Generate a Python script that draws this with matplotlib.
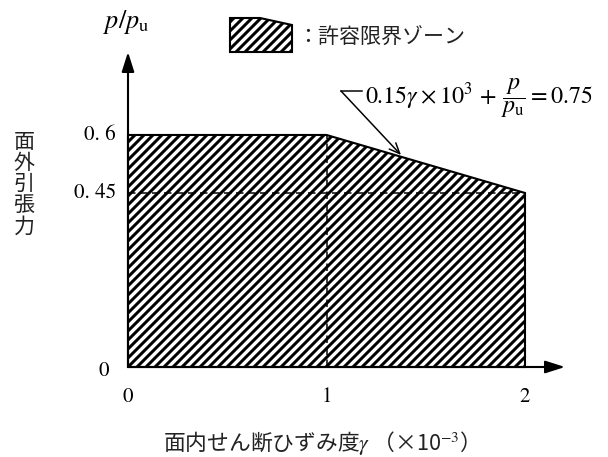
import matplotlib
matplotlib.use("Agg")
import matplotlib.pyplot as plt
from matplotlib.patches import Polygon

plt.rcParams['font.family'] = ['Noto Sans CJK JP', 'DejaVu Sans']
plt.rcParams['mathtext.fontset'] = 'stix'
plt.rcParams['hatch.linewidth'] = 2.0

# boundary of the allowable zone
gamma_pts = [0, 0, 1, 2, 2]
p_pts = [0, 0.6, 0.6, 0.45, 0]
x_ticks = [0, 1, 2]
x_labels = ['0', '1', '2']
y_ticks = [0, 0.45, 0.6]
y_labels = ['0', '0. 45', '0. 6']

DPI = 108
W, H = 608, 457
x0_px, x_scale = 128, 198.5      # pixel of gamma=0, px per unit
y0_px, y_scale = 367, 386.7      # pixel (from top) of p=0, px per unit


def px_x(px):
    return (px - x0_px) / x_scale


def px_y(py):
    return (y0_px - py) / y_scale


fig = plt.figure(figsize=(W / DPI, H / DPI), dpi=DPI)
ax = fig.add_axes([0, 0, 1, 1])
ax.set_xlim(px_x(0), px_x(W))
ax.set_ylim(px_y(H), px_y(0))
ax.axis('off')

# hatched zone
zone = Polygon(list(zip(gamma_pts, p_pts)), closed=True, facecolor='white',
               edgecolor='black', hatch='////', linewidth=1.4, zorder=2)
ax.add_patch(zone)

# dashed guides
ax.plot([1, 1], [0, 0.6], color='black', lw=1.0, ls=(0, (5, 3)), zorder=3)
ax.plot([0, 2], [0.45, 0.45], color='black', lw=1.0, ls=(0, (5, 3)), zorder=3)

# axes with arrows
arrow = dict(arrowstyle='-|>,head_length=1.1,head_width=0.35',
             color='black', lw=1.4, shrinkA=0, shrinkB=0)
ax.annotate('', xy=(px_x(565), 0), xytext=(0, 0), arrowprops=arrow, zorder=4)
ax.annotate('', xy=(0, px_y(52)), xytext=(0, 0), arrowprops=arrow, zorder=4)

# tick labels
for xv, lab in zip(x_ticks, x_labels):
    ax.text(xv, px_y(397), lab, ha='center', va='center', fontsize=14,
            family='STIXGeneral')
for yv, lab in zip(y_ticks, y_labels):
    if yv == 0:
        ax.text(px_x(109), yv - 4 / y_scale, lab, ha='right', va='center',
                fontsize=14, family='STIXGeneral')
    else:
        ax.text(px_x(116), yv, lab, ha='right', va='center', fontsize=14,
                family='STIXGeneral')

# axis labels
ax.text(px_x(126), px_y(22), r'$p/p_{\mathrm{u}}$', ha='center', va='center',
        fontsize=17.5)
ax.text(px_x(24), px_y(184), '面\n外\n引\n張\n力', ha='center', va='center',
        fontsize=14, linespacing=0.95, color='#222222')
ax.text(px_x(316), px_y(443), '面内せん断ひずみ度$\\gamma$ （×10$^{-3}$）',
        ha='center', va='center', fontsize=14.5, color='#222222')

# equation with leader arrow
ax.plot([px_x(341), px_x(362)], [px_y(91), px_y(91)], color='black', lw=1.0)
ax.annotate('', xy=(px_x(401), px_y(155)), xytext=(px_x(341), px_y(91)),
            arrowprops=dict(arrowstyle='->,head_length=0.7,head_width=0.3',
                            color='black', lw=1.0, shrinkA=0, shrinkB=0))
ax.text(px_x(365), px_y(98),
        r'$0.15\gamma\times10^{3}\,+\,\dfrac{p}{p_{\mathrm{u}}}=0.75$',
        ha='left', va='center', fontsize=16)

# legend symbol
leg = [(230, 18), (260, 18), (292, 25), (292, 52), (230, 52)]
leg_fig = [(px / W, 1 - py / H) for px, py in leg]
fig.patches.append(Polygon(leg_fig, closed=True, transform=fig.transFigure,
                           facecolor='white', edgecolor='black', hatch='////',
                           linewidth=1.4))
fig.text(297 / W, 1 - 38 / H, '：許容限界ゾーン', ha='left', va='center',
         fontsize=14, color='#222222')

fig.savefig('out.png', dpi=DPI)
